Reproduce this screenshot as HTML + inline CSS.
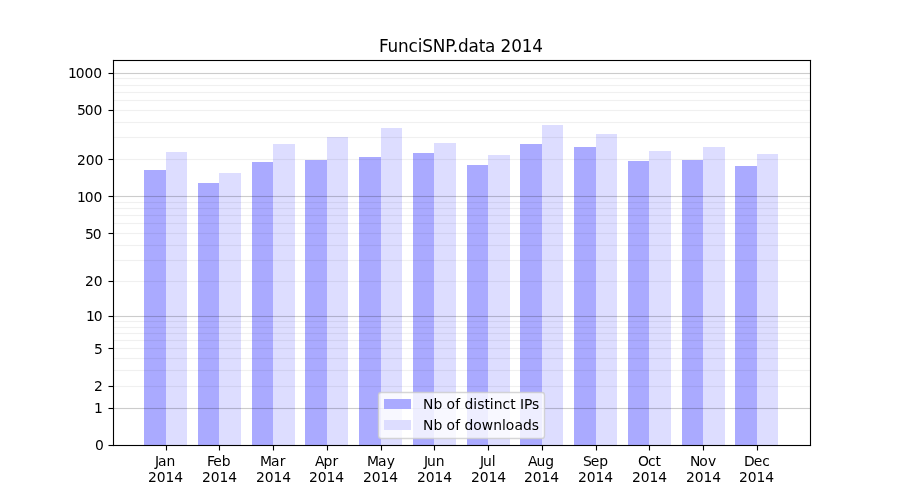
<!DOCTYPE html>
<html lang="en"><head><meta charset="utf-8"><title>FunciSNP.data 2014</title>
<style>html,body{margin:0;padding:0;background:#fff;overflow:hidden}svg{display:block}</style>
</head><body>
<svg width="900" height="500" viewBox="0 0 900 500">
<rect x="0" y="0" width="900" height="500" fill="#fff"/>
<g shape-rendering="crispEdges">
<rect x="144" y="170" width="22" height="275" fill="#aaaaff"/>
<rect x="166" y="152" width="21" height="293" fill="#ddddff"/>
<rect x="198" y="183" width="21" height="262" fill="#aaaaff"/>
<rect x="219" y="173" width="22" height="272" fill="#ddddff"/>
<rect x="252" y="162" width="21" height="283" fill="#aaaaff"/>
<rect x="273" y="144" width="22" height="301" fill="#ddddff"/>
<rect x="305" y="160" width="22" height="285" fill="#aaaaff"/>
<rect x="327" y="137" width="21" height="308" fill="#ddddff"/>
<rect x="359" y="157" width="22" height="288" fill="#aaaaff"/>
<rect x="381" y="128" width="21" height="317" fill="#ddddff"/>
<rect x="413" y="153" width="21" height="292" fill="#aaaaff"/>
<rect x="434" y="143" width="22" height="302" fill="#ddddff"/>
<rect x="467" y="165" width="21" height="280" fill="#aaaaff"/>
<rect x="488" y="155" width="22" height="290" fill="#ddddff"/>
<rect x="520" y="144" width="22" height="301" fill="#aaaaff"/>
<rect x="542" y="125" width="21" height="320" fill="#ddddff"/>
<rect x="574" y="147" width="22" height="298" fill="#aaaaff"/>
<rect x="596" y="134" width="21" height="311" fill="#ddddff"/>
<rect x="628" y="161" width="21" height="284" fill="#aaaaff"/>
<rect x="649" y="151" width="22" height="294" fill="#ddddff"/>
<rect x="682" y="160" width="21" height="285" fill="#aaaaff"/>
<rect x="703" y="147" width="22" height="298" fill="#ddddff"/>
<rect x="735" y="166" width="22" height="279" fill="#aaaaff"/>
<rect x="757" y="154" width="21" height="291" fill="#ddddff"/>
<rect x="114" y="407" width="696" height="1" fill="#000" fill-opacity="0.011"/>
<rect x="114" y="408" width="696" height="1" fill="#000" fill-opacity="0.2"/>
<rect x="114" y="409" width="696" height="1" fill="#000" fill-opacity="0.011"/>
<rect x="114" y="385" width="696" height="1" fill="#000" fill-opacity="0.0035"/>
<rect x="114" y="386" width="696" height="1" fill="#000" fill-opacity="0.06"/>
<rect x="114" y="387" width="696" height="1" fill="#000" fill-opacity="0.0035"/>
<rect x="114" y="369" width="696" height="1" fill="#000" fill-opacity="0.0035"/>
<rect x="114" y="370" width="696" height="1" fill="#000" fill-opacity="0.06"/>
<rect x="114" y="371" width="696" height="1" fill="#000" fill-opacity="0.0035"/>
<rect x="114" y="357" width="696" height="1" fill="#000" fill-opacity="0.0035"/>
<rect x="114" y="358" width="696" height="1" fill="#000" fill-opacity="0.06"/>
<rect x="114" y="359" width="696" height="1" fill="#000" fill-opacity="0.0035"/>
<rect x="114" y="347" width="696" height="1" fill="#000" fill-opacity="0.0035"/>
<rect x="114" y="348" width="696" height="1" fill="#000" fill-opacity="0.06"/>
<rect x="114" y="349" width="696" height="1" fill="#000" fill-opacity="0.0035"/>
<rect x="114" y="339" width="696" height="1" fill="#000" fill-opacity="0.0035"/>
<rect x="114" y="340" width="696" height="1" fill="#000" fill-opacity="0.06"/>
<rect x="114" y="341" width="696" height="1" fill="#000" fill-opacity="0.0035"/>
<rect x="114" y="332" width="696" height="1" fill="#000" fill-opacity="0.0035"/>
<rect x="114" y="333" width="696" height="1" fill="#000" fill-opacity="0.06"/>
<rect x="114" y="334" width="696" height="1" fill="#000" fill-opacity="0.0035"/>
<rect x="114" y="326" width="696" height="1" fill="#000" fill-opacity="0.0035"/>
<rect x="114" y="327" width="696" height="1" fill="#000" fill-opacity="0.06"/>
<rect x="114" y="328" width="696" height="1" fill="#000" fill-opacity="0.0035"/>
<rect x="114" y="320" width="696" height="1" fill="#000" fill-opacity="0.0035"/>
<rect x="114" y="321" width="696" height="1" fill="#000" fill-opacity="0.06"/>
<rect x="114" y="322" width="696" height="1" fill="#000" fill-opacity="0.0035"/>
<rect x="114" y="315" width="696" height="1" fill="#000" fill-opacity="0.011"/>
<rect x="114" y="316" width="696" height="1" fill="#000" fill-opacity="0.2"/>
<rect x="114" y="317" width="696" height="1" fill="#000" fill-opacity="0.011"/>
<rect x="114" y="280" width="696" height="1" fill="#000" fill-opacity="0.0035"/>
<rect x="114" y="281" width="696" height="1" fill="#000" fill-opacity="0.06"/>
<rect x="114" y="282" width="696" height="1" fill="#000" fill-opacity="0.0035"/>
<rect x="114" y="259" width="696" height="1" fill="#000" fill-opacity="0.0035"/>
<rect x="114" y="260" width="696" height="1" fill="#000" fill-opacity="0.06"/>
<rect x="114" y="261" width="696" height="1" fill="#000" fill-opacity="0.0035"/>
<rect x="114" y="244" width="696" height="1" fill="#000" fill-opacity="0.0035"/>
<rect x="114" y="245" width="696" height="1" fill="#000" fill-opacity="0.06"/>
<rect x="114" y="246" width="696" height="1" fill="#000" fill-opacity="0.0035"/>
<rect x="114" y="232" width="696" height="1" fill="#000" fill-opacity="0.0035"/>
<rect x="114" y="233" width="696" height="1" fill="#000" fill-opacity="0.06"/>
<rect x="114" y="234" width="696" height="1" fill="#000" fill-opacity="0.0035"/>
<rect x="114" y="222" width="696" height="1" fill="#000" fill-opacity="0.0035"/>
<rect x="114" y="223" width="696" height="1" fill="#000" fill-opacity="0.06"/>
<rect x="114" y="224" width="696" height="1" fill="#000" fill-opacity="0.0035"/>
<rect x="114" y="214" width="696" height="1" fill="#000" fill-opacity="0.0035"/>
<rect x="114" y="215" width="696" height="1" fill="#000" fill-opacity="0.06"/>
<rect x="114" y="216" width="696" height="1" fill="#000" fill-opacity="0.0035"/>
<rect x="114" y="207" width="696" height="1" fill="#000" fill-opacity="0.0035"/>
<rect x="114" y="208" width="696" height="1" fill="#000" fill-opacity="0.06"/>
<rect x="114" y="209" width="696" height="1" fill="#000" fill-opacity="0.0035"/>
<rect x="114" y="201" width="696" height="1" fill="#000" fill-opacity="0.0035"/>
<rect x="114" y="202" width="696" height="1" fill="#000" fill-opacity="0.06"/>
<rect x="114" y="203" width="696" height="1" fill="#000" fill-opacity="0.0035"/>
<rect x="114" y="195" width="696" height="1" fill="#000" fill-opacity="0.011"/>
<rect x="114" y="196" width="696" height="1" fill="#000" fill-opacity="0.2"/>
<rect x="114" y="197" width="696" height="1" fill="#000" fill-opacity="0.011"/>
<rect x="114" y="158" width="696" height="1" fill="#000" fill-opacity="0.0035"/>
<rect x="114" y="159" width="696" height="1" fill="#000" fill-opacity="0.06"/>
<rect x="114" y="160" width="696" height="1" fill="#000" fill-opacity="0.0035"/>
<rect x="114" y="136" width="696" height="1" fill="#000" fill-opacity="0.0035"/>
<rect x="114" y="137" width="696" height="1" fill="#000" fill-opacity="0.06"/>
<rect x="114" y="138" width="696" height="1" fill="#000" fill-opacity="0.0035"/>
<rect x="114" y="121" width="696" height="1" fill="#000" fill-opacity="0.0035"/>
<rect x="114" y="122" width="696" height="1" fill="#000" fill-opacity="0.06"/>
<rect x="114" y="123" width="696" height="1" fill="#000" fill-opacity="0.0035"/>
<rect x="114" y="109" width="696" height="1" fill="#000" fill-opacity="0.0035"/>
<rect x="114" y="110" width="696" height="1" fill="#000" fill-opacity="0.06"/>
<rect x="114" y="111" width="696" height="1" fill="#000" fill-opacity="0.0035"/>
<rect x="114" y="99" width="696" height="1" fill="#000" fill-opacity="0.0035"/>
<rect x="114" y="100" width="696" height="1" fill="#000" fill-opacity="0.06"/>
<rect x="114" y="101" width="696" height="1" fill="#000" fill-opacity="0.0035"/>
<rect x="114" y="91" width="696" height="1" fill="#000" fill-opacity="0.0035"/>
<rect x="114" y="92" width="696" height="1" fill="#000" fill-opacity="0.06"/>
<rect x="114" y="93" width="696" height="1" fill="#000" fill-opacity="0.0035"/>
<rect x="114" y="84" width="696" height="1" fill="#000" fill-opacity="0.0035"/>
<rect x="114" y="85" width="696" height="1" fill="#000" fill-opacity="0.06"/>
<rect x="114" y="86" width="696" height="1" fill="#000" fill-opacity="0.0035"/>
<rect x="114" y="77" width="696" height="1" fill="#000" fill-opacity="0.0035"/>
<rect x="114" y="78" width="696" height="1" fill="#000" fill-opacity="0.06"/>
<rect x="114" y="79" width="696" height="1" fill="#000" fill-opacity="0.0035"/>
<rect x="114" y="72" width="696" height="1" fill="#000" fill-opacity="0.011"/>
<rect x="114" y="73" width="696" height="1" fill="#000" fill-opacity="0.2"/>
<rect x="114" y="74" width="696" height="1" fill="#000" fill-opacity="0.011"/>
<rect x="112" y="60" width="1" height="386" fill="#000" fill-opacity="0.055"/>
<rect x="114" y="61" width="1" height="384" fill="#000" fill-opacity="0.055"/>
<rect x="809" y="61" width="1" height="384" fill="#000" fill-opacity="0.055"/>
<rect x="811" y="60" width="1" height="386" fill="#000" fill-opacity="0.055"/>
<rect x="113" y="59" width="698" height="1" fill="#000" fill-opacity="0.055"/>
<rect x="114" y="61" width="696" height="1" fill="#000" fill-opacity="0.055"/>
<rect x="114" y="444" width="696" height="1" fill="#000" fill-opacity="0.055"/>
<rect x="113" y="446" width="698" height="1" fill="#000" fill-opacity="0.055"/>
<rect x="113" y="60" width="698" height="1" fill="#000"/>
<rect x="113" y="445" width="698" height="1" fill="#000"/>
<rect x="113" y="60" width="1" height="386" fill="#000"/>
<rect x="810" y="60" width="1" height="386" fill="#000"/>
<rect x="109" y="445" width="4" height="1" fill="#000"/>
<rect x="108" y="445" width="1" height="1" fill="#000" fill-opacity="0.5"/>
<rect x="109" y="444" width="4" height="1" fill="#000" fill-opacity="0.055"/>
<rect x="109" y="446" width="4" height="1" fill="#000" fill-opacity="0.055"/>
<rect x="108" y="444" width="1" height="1" fill="#000" fill-opacity="0.027"/>
<rect x="108" y="446" width="1" height="1" fill="#000" fill-opacity="0.027"/>
<rect x="109" y="408" width="4" height="1" fill="#000"/>
<rect x="108" y="408" width="1" height="1" fill="#000" fill-opacity="0.5"/>
<rect x="109" y="407" width="4" height="1" fill="#000" fill-opacity="0.055"/>
<rect x="109" y="409" width="4" height="1" fill="#000" fill-opacity="0.055"/>
<rect x="108" y="407" width="1" height="1" fill="#000" fill-opacity="0.027"/>
<rect x="108" y="409" width="1" height="1" fill="#000" fill-opacity="0.027"/>
<rect x="109" y="386" width="4" height="1" fill="#000"/>
<rect x="108" y="386" width="1" height="1" fill="#000" fill-opacity="0.5"/>
<rect x="109" y="385" width="4" height="1" fill="#000" fill-opacity="0.055"/>
<rect x="109" y="387" width="4" height="1" fill="#000" fill-opacity="0.055"/>
<rect x="108" y="385" width="1" height="1" fill="#000" fill-opacity="0.027"/>
<rect x="108" y="387" width="1" height="1" fill="#000" fill-opacity="0.027"/>
<rect x="109" y="348" width="4" height="1" fill="#000"/>
<rect x="108" y="348" width="1" height="1" fill="#000" fill-opacity="0.5"/>
<rect x="109" y="347" width="4" height="1" fill="#000" fill-opacity="0.055"/>
<rect x="109" y="349" width="4" height="1" fill="#000" fill-opacity="0.055"/>
<rect x="108" y="347" width="1" height="1" fill="#000" fill-opacity="0.027"/>
<rect x="108" y="349" width="1" height="1" fill="#000" fill-opacity="0.027"/>
<rect x="109" y="316" width="4" height="1" fill="#000"/>
<rect x="108" y="316" width="1" height="1" fill="#000" fill-opacity="0.5"/>
<rect x="109" y="315" width="4" height="1" fill="#000" fill-opacity="0.055"/>
<rect x="109" y="317" width="4" height="1" fill="#000" fill-opacity="0.055"/>
<rect x="108" y="315" width="1" height="1" fill="#000" fill-opacity="0.027"/>
<rect x="108" y="317" width="1" height="1" fill="#000" fill-opacity="0.027"/>
<rect x="109" y="281" width="4" height="1" fill="#000"/>
<rect x="108" y="281" width="1" height="1" fill="#000" fill-opacity="0.5"/>
<rect x="109" y="280" width="4" height="1" fill="#000" fill-opacity="0.055"/>
<rect x="109" y="282" width="4" height="1" fill="#000" fill-opacity="0.055"/>
<rect x="108" y="280" width="1" height="1" fill="#000" fill-opacity="0.027"/>
<rect x="108" y="282" width="1" height="1" fill="#000" fill-opacity="0.027"/>
<rect x="109" y="233" width="4" height="1" fill="#000"/>
<rect x="108" y="233" width="1" height="1" fill="#000" fill-opacity="0.5"/>
<rect x="109" y="232" width="4" height="1" fill="#000" fill-opacity="0.055"/>
<rect x="109" y="234" width="4" height="1" fill="#000" fill-opacity="0.055"/>
<rect x="108" y="232" width="1" height="1" fill="#000" fill-opacity="0.027"/>
<rect x="108" y="234" width="1" height="1" fill="#000" fill-opacity="0.027"/>
<rect x="109" y="196" width="4" height="1" fill="#000"/>
<rect x="108" y="196" width="1" height="1" fill="#000" fill-opacity="0.5"/>
<rect x="109" y="195" width="4" height="1" fill="#000" fill-opacity="0.055"/>
<rect x="109" y="197" width="4" height="1" fill="#000" fill-opacity="0.055"/>
<rect x="108" y="195" width="1" height="1" fill="#000" fill-opacity="0.027"/>
<rect x="108" y="197" width="1" height="1" fill="#000" fill-opacity="0.027"/>
<rect x="109" y="159" width="4" height="1" fill="#000"/>
<rect x="108" y="159" width="1" height="1" fill="#000" fill-opacity="0.5"/>
<rect x="109" y="158" width="4" height="1" fill="#000" fill-opacity="0.055"/>
<rect x="109" y="160" width="4" height="1" fill="#000" fill-opacity="0.055"/>
<rect x="108" y="158" width="1" height="1" fill="#000" fill-opacity="0.027"/>
<rect x="108" y="160" width="1" height="1" fill="#000" fill-opacity="0.027"/>
<rect x="109" y="110" width="4" height="1" fill="#000"/>
<rect x="108" y="110" width="1" height="1" fill="#000" fill-opacity="0.5"/>
<rect x="109" y="109" width="4" height="1" fill="#000" fill-opacity="0.055"/>
<rect x="109" y="111" width="4" height="1" fill="#000" fill-opacity="0.055"/>
<rect x="108" y="109" width="1" height="1" fill="#000" fill-opacity="0.027"/>
<rect x="108" y="111" width="1" height="1" fill="#000" fill-opacity="0.027"/>
<rect x="109" y="73" width="4" height="1" fill="#000"/>
<rect x="108" y="73" width="1" height="1" fill="#000" fill-opacity="0.5"/>
<rect x="109" y="72" width="4" height="1" fill="#000" fill-opacity="0.055"/>
<rect x="109" y="74" width="4" height="1" fill="#000" fill-opacity="0.055"/>
<rect x="108" y="72" width="1" height="1" fill="#000" fill-opacity="0.027"/>
<rect x="108" y="74" width="1" height="1" fill="#000" fill-opacity="0.027"/>
<rect x="166" y="446" width="1" height="4" fill="#000"/>
<rect x="166" y="450" width="1" height="1" fill="#000" fill-opacity="0.5"/>
<rect x="165" y="446" width="1" height="4" fill="#000" fill-opacity="0.055"/>
<rect x="167" y="446" width="1" height="4" fill="#000" fill-opacity="0.055"/>
<rect x="165" y="450" width="1" height="1" fill="#000" fill-opacity="0.027"/>
<rect x="167" y="450" width="1" height="1" fill="#000" fill-opacity="0.027"/>
<rect x="219" y="446" width="1" height="4" fill="#000"/>
<rect x="219" y="450" width="1" height="1" fill="#000" fill-opacity="0.5"/>
<rect x="218" y="446" width="1" height="4" fill="#000" fill-opacity="0.055"/>
<rect x="220" y="446" width="1" height="4" fill="#000" fill-opacity="0.055"/>
<rect x="218" y="450" width="1" height="1" fill="#000" fill-opacity="0.027"/>
<rect x="220" y="450" width="1" height="1" fill="#000" fill-opacity="0.027"/>
<rect x="273" y="446" width="1" height="4" fill="#000"/>
<rect x="273" y="450" width="1" height="1" fill="#000" fill-opacity="0.5"/>
<rect x="272" y="446" width="1" height="4" fill="#000" fill-opacity="0.055"/>
<rect x="274" y="446" width="1" height="4" fill="#000" fill-opacity="0.055"/>
<rect x="272" y="450" width="1" height="1" fill="#000" fill-opacity="0.027"/>
<rect x="274" y="450" width="1" height="1" fill="#000" fill-opacity="0.027"/>
<rect x="327" y="446" width="1" height="4" fill="#000"/>
<rect x="327" y="450" width="1" height="1" fill="#000" fill-opacity="0.5"/>
<rect x="326" y="446" width="1" height="4" fill="#000" fill-opacity="0.055"/>
<rect x="328" y="446" width="1" height="4" fill="#000" fill-opacity="0.055"/>
<rect x="326" y="450" width="1" height="1" fill="#000" fill-opacity="0.027"/>
<rect x="328" y="450" width="1" height="1" fill="#000" fill-opacity="0.027"/>
<rect x="381" y="446" width="1" height="4" fill="#000"/>
<rect x="381" y="450" width="1" height="1" fill="#000" fill-opacity="0.5"/>
<rect x="380" y="446" width="1" height="4" fill="#000" fill-opacity="0.055"/>
<rect x="382" y="446" width="1" height="4" fill="#000" fill-opacity="0.055"/>
<rect x="380" y="450" width="1" height="1" fill="#000" fill-opacity="0.027"/>
<rect x="382" y="450" width="1" height="1" fill="#000" fill-opacity="0.027"/>
<rect x="434" y="446" width="1" height="4" fill="#000"/>
<rect x="434" y="450" width="1" height="1" fill="#000" fill-opacity="0.5"/>
<rect x="433" y="446" width="1" height="4" fill="#000" fill-opacity="0.055"/>
<rect x="435" y="446" width="1" height="4" fill="#000" fill-opacity="0.055"/>
<rect x="433" y="450" width="1" height="1" fill="#000" fill-opacity="0.027"/>
<rect x="435" y="450" width="1" height="1" fill="#000" fill-opacity="0.027"/>
<rect x="488" y="446" width="1" height="4" fill="#000"/>
<rect x="488" y="450" width="1" height="1" fill="#000" fill-opacity="0.5"/>
<rect x="487" y="446" width="1" height="4" fill="#000" fill-opacity="0.055"/>
<rect x="489" y="446" width="1" height="4" fill="#000" fill-opacity="0.055"/>
<rect x="487" y="450" width="1" height="1" fill="#000" fill-opacity="0.027"/>
<rect x="489" y="450" width="1" height="1" fill="#000" fill-opacity="0.027"/>
<rect x="542" y="446" width="1" height="4" fill="#000"/>
<rect x="542" y="450" width="1" height="1" fill="#000" fill-opacity="0.5"/>
<rect x="541" y="446" width="1" height="4" fill="#000" fill-opacity="0.055"/>
<rect x="543" y="446" width="1" height="4" fill="#000" fill-opacity="0.055"/>
<rect x="541" y="450" width="1" height="1" fill="#000" fill-opacity="0.027"/>
<rect x="543" y="450" width="1" height="1" fill="#000" fill-opacity="0.027"/>
<rect x="596" y="446" width="1" height="4" fill="#000"/>
<rect x="596" y="450" width="1" height="1" fill="#000" fill-opacity="0.5"/>
<rect x="595" y="446" width="1" height="4" fill="#000" fill-opacity="0.055"/>
<rect x="597" y="446" width="1" height="4" fill="#000" fill-opacity="0.055"/>
<rect x="595" y="450" width="1" height="1" fill="#000" fill-opacity="0.027"/>
<rect x="597" y="450" width="1" height="1" fill="#000" fill-opacity="0.027"/>
<rect x="649" y="446" width="1" height="4" fill="#000"/>
<rect x="649" y="450" width="1" height="1" fill="#000" fill-opacity="0.5"/>
<rect x="648" y="446" width="1" height="4" fill="#000" fill-opacity="0.055"/>
<rect x="650" y="446" width="1" height="4" fill="#000" fill-opacity="0.055"/>
<rect x="648" y="450" width="1" height="1" fill="#000" fill-opacity="0.027"/>
<rect x="650" y="450" width="1" height="1" fill="#000" fill-opacity="0.027"/>
<rect x="703" y="446" width="1" height="4" fill="#000"/>
<rect x="703" y="450" width="1" height="1" fill="#000" fill-opacity="0.5"/>
<rect x="702" y="446" width="1" height="4" fill="#000" fill-opacity="0.055"/>
<rect x="704" y="446" width="1" height="4" fill="#000" fill-opacity="0.055"/>
<rect x="702" y="450" width="1" height="1" fill="#000" fill-opacity="0.027"/>
<rect x="704" y="450" width="1" height="1" fill="#000" fill-opacity="0.027"/>
<rect x="757" y="446" width="1" height="4" fill="#000"/>
<rect x="757" y="450" width="1" height="1" fill="#000" fill-opacity="0.5"/>
<rect x="756" y="446" width="1" height="4" fill="#000" fill-opacity="0.055"/>
<rect x="758" y="446" width="1" height="4" fill="#000" fill-opacity="0.055"/>
<rect x="756" y="450" width="1" height="1" fill="#000" fill-opacity="0.027"/>
<rect x="758" y="450" width="1" height="1" fill="#000" fill-opacity="0.027"/>
<rect x="112" y="59" width="1" height="1" fill="#fdfdfd"/>
<rect x="113" y="59" width="1" height="1" fill="#e3e3e3"/>
<rect x="810" y="59" width="1" height="1" fill="#e3e3e3"/>
<rect x="811" y="59" width="1" height="1" fill="#fdfdfd"/>
<rect x="112" y="60" width="1" height="1" fill="#e3e3e3"/>
<rect x="811" y="60" width="1" height="1" fill="#e3e3e3"/>
<rect x="811" y="445" width="1" height="1" fill="#e3e3e3"/>
<rect x="112" y="446" width="1" height="1" fill="#efefef"/>
<rect x="113" y="446" width="1" height="1" fill="#dddddd"/>
<rect x="810" y="446" width="1" height="1" fill="#e3e3e3"/>
<rect x="811" y="446" width="1" height="1" fill="#fdfdfd"/>
<rect x="114" y="61" width="1" height="1" fill="#e3e3e3"/>
<rect x="809" y="61" width="1" height="1" fill="#e3e3e3"/>
<rect x="114" y="444" width="1" height="1" fill="#e3e3e3"/>
<rect x="809" y="444" width="1" height="1" fill="#e3e3e3"/>
</g>
<rect x="378.5" y="392.5" width="166" height="46" rx="2.78" ry="2.78" fill="#fff" fill-opacity="0.8" stroke="#ccc" stroke-opacity="0.8" stroke-width="1.39"/>
<g shape-rendering="crispEdges">
<rect x="384" y="399" width="27" height="10" fill="#aaaaff"/>
<rect x="384" y="420" width="27" height="10" fill="#ddddff"/>
</g>
<g font-family="'DejaVu Sans', 'Liberation Sans', sans-serif" fill="#000">
<text x="379 387.5 398 408.5 417.75 422.25 432.75 445.25 452.75 458 468.5 478.75 485 495.5 500.5 511.25 521.75 532.25" y="52" font-size="16.85">FunciSNP.data 2014</text>
<text x="155 158 166.5" y="466" font-size="13.889">Jan</text>
<text x="148 156.75 165.5 174.25" y="482" font-size="13.889">2014</text>
<text x="207 213.25 221.75" y="466" font-size="13.889">Feb</text>
<text x="202 210.75 219.5 228.25" y="482" font-size="13.889">2014</text>
<text x="260 271 279.75" y="466" font-size="13.889">Mar</text>
<text x="256 264.75 273.5 282.25" y="482" font-size="13.889">2014</text>
<text x="315 323.5 332.5" y="466" font-size="13.889">Apr</text>
<text x="309 317.75 326.5 335.25" y="482" font-size="13.889">2014</text>
<text x="367 378 386.75" y="466" font-size="13.889">May</text>
<text x="363 371.75 380.5 389.25" y="482" font-size="13.889">2014</text>
<text x="424 427 435.75" y="466" font-size="13.889">Jun</text>
<text x="417 425.75 434.5 443.25" y="482" font-size="13.889">2014</text>
<text x="480 483 491.75" y="466" font-size="13.889">Jul</text>
<text x="471 479.75 488.5 497.25" y="482" font-size="13.889">2014</text>
<text x="528 536.5 545.25" y="466" font-size="13.889">Aug</text>
<text x="524 532.75 541.5 550.25" y="482" font-size="13.889">2014</text>
<text x="583 590.75 599.25" y="466" font-size="13.889">Sep</text>
<text x="578 586.75 595.5 604.25" y="482" font-size="13.889">2014</text>
<text x="638 648 655.5" y="466" font-size="13.889">Oct</text>
<text x="632 640.75 649.5 658.25" y="482" font-size="13.889">2014</text>
<text x="690 699.25 708" y="466" font-size="13.889">Nov</text>
<text x="686 694.75 703.5 712.25" y="482" font-size="13.889">2014</text>
<text x="744 753.75 762.25" y="466" font-size="13.889">Dec</text>
<text x="739 747.75 756.5 765.25" y="482" font-size="13.889">2014</text>
<text x="95" y="450" font-size="13.889">0</text>
<text x="94" y="413" font-size="13.889">1</text>
<text x="94" y="391" font-size="13.889">2</text>
<text x="94" y="354" font-size="13.889">5</text>
<text x="86 93.75" y="321" font-size="13.889">10</text>
<text x="85 93.75" y="286" font-size="13.889">20</text>
<text x="85 92.75" y="239" font-size="13.889">50</text>
<text x="77 84.75 93.5" y="202" font-size="13.889">100</text>
<text x="77 85.75 94.5" y="165" font-size="13.889">200</text>
<text x="77 84.75 93.5" y="115" font-size="13.889">500</text>
<text x="68 75.75 84.5 93.25" y="78" font-size="13.889">1000</text>
<text x="423 433.5 442.25 446.5 455.25 460 464.5 473.25 477.25 484.5 489.75 493.75 502.5 510.25 515.5 520 524 532" y="409" font-size="13.889">Nb of distinct IPs</text>
<text x="423 433.5 442.25 446.5 455.25 460 464.5 473.25 481.75 493.25 502 505.75 514.5 523 531.75" y="430" font-size="13.889">Nb of downloads</text>
</g>
</svg>
</body></html>
